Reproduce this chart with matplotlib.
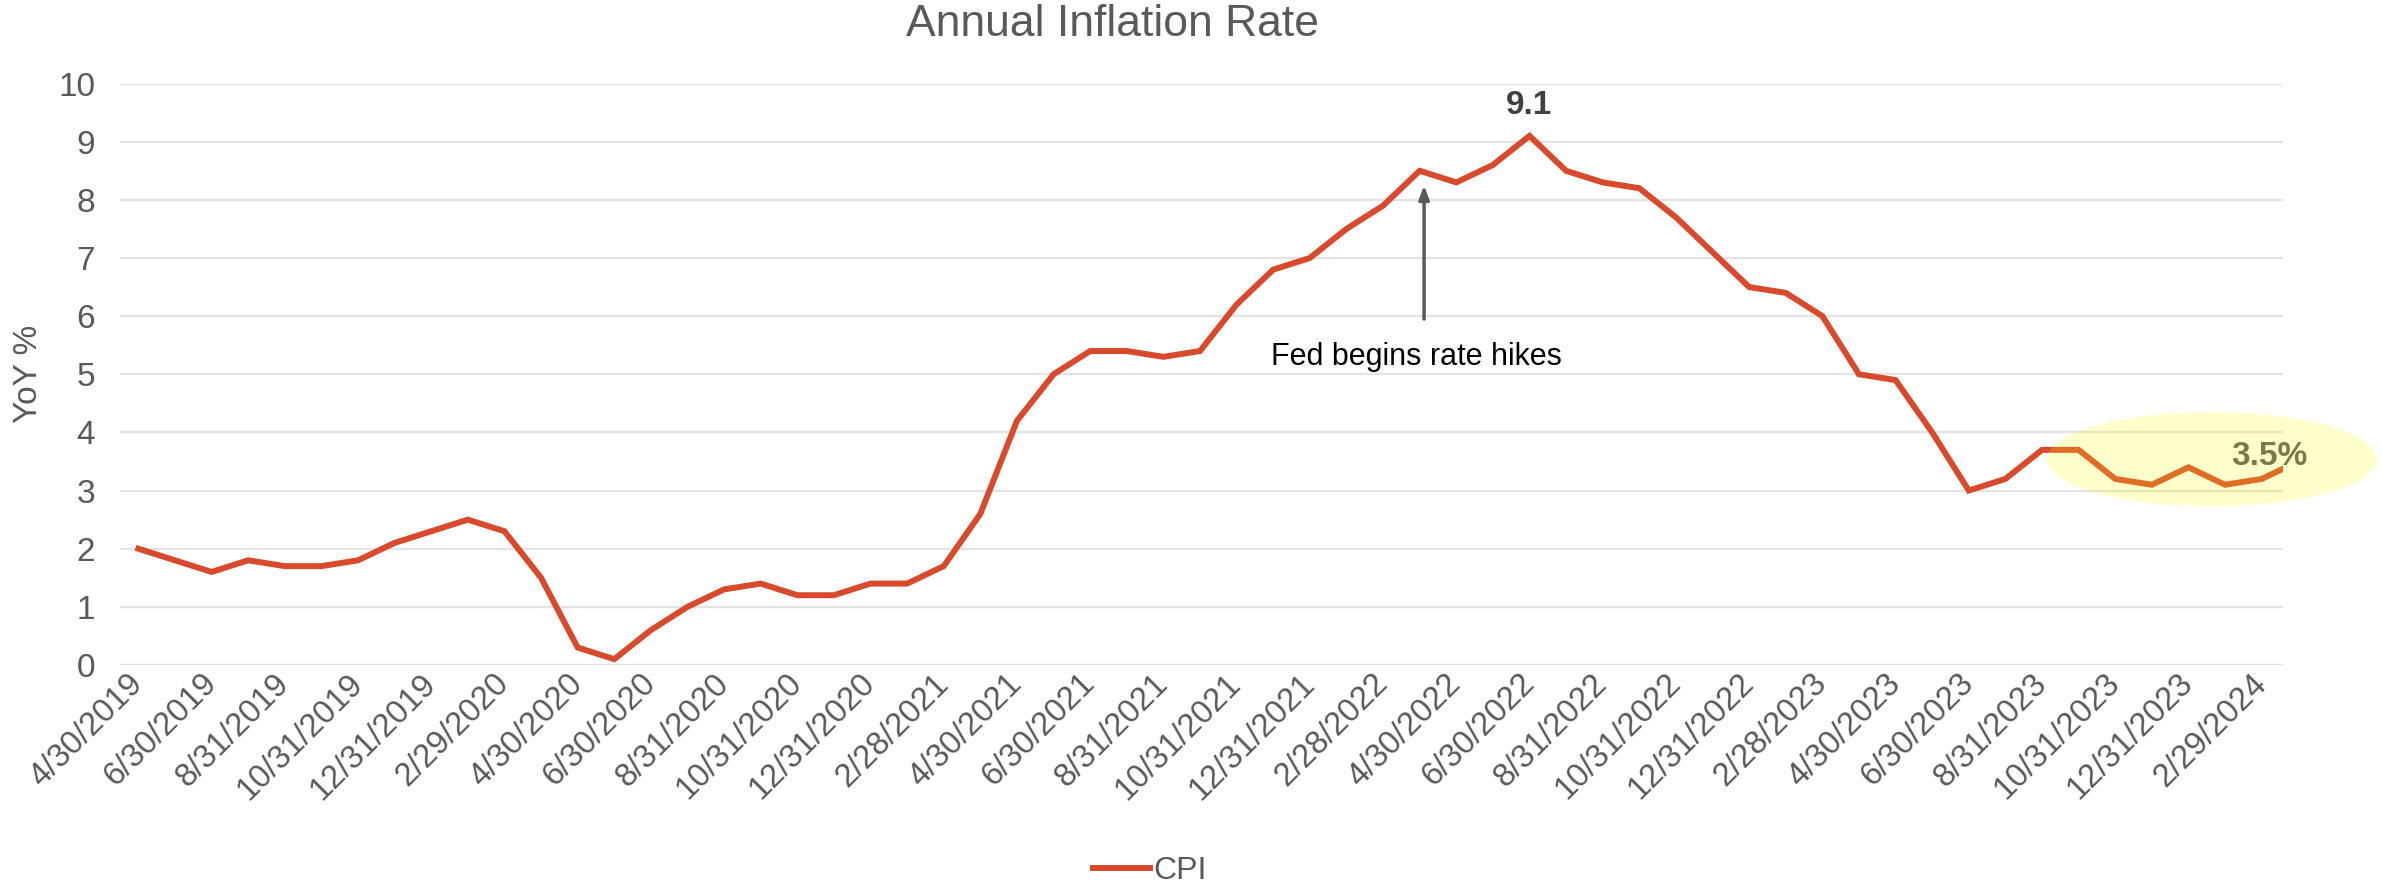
# Annual CPI inflation, monthly YoY %, Apr 2019 - Mar 2024
import numpy as np
import pandas as pd
import matplotlib
matplotlib.use('Agg')
from matplotlib import pyplot as plt
from matplotlib.patches import Ellipse
from matplotlib import rcParams

rcParams['font.family'] = ['Liberation Sans', 'DejaVu Sans']

# data
dates = pd.date_range('2019-04-30', '2024-03-31', freq='ME')
cpi = [2.0, 1.8, 1.6, 1.8, 1.7, 1.7, 1.8, 2.1, 2.3,
       2.5, 2.3, 1.5, 0.3, 0.1, 0.6, 1.0, 1.3, 1.4, 1.2, 1.2, 1.4,
       1.4, 1.7, 2.6, 4.2, 5.0, 5.4, 5.4, 5.3, 5.4, 6.2, 6.8, 7.0,
       7.5, 7.9, 8.5, 8.3, 8.6, 9.1, 8.5, 8.3, 8.2, 7.7, 7.1, 6.5,
       6.4, 6.0, 5.0, 4.9, 4.0, 3.0, 3.2, 3.7, 3.7, 3.2, 3.1, 3.4,
       3.1, 3.2, 3.5]
labels = ['%d/%d/%d' % (d.month, d.day, d.year) for d in dates]
hike_month = '3/31/2022'
yticks = list(range(0, 11))

grey = '#595959'
red = '#D84A2B'

fig = plt.figure(figsize=(23.82, 8.89), dpi=100)
ax = fig.add_axes([0.0504, 0.252, 0.908, 0.654])

x = np.arange(len(cpi))
ax.plot(x, cpi, color=red, lw=4.3, solid_joinstyle='miter', label='CPI', zorder=3)

ax.set_xlim(-0.5, 58.58)
ax.set_ylim(0, 10)
ax.set_yticks(yticks)
ax.set_xticks(x[::2])
ax.set_xticklabels(labels[::2], rotation=45, ha='right', va='center',
                   rotation_mode='anchor', fontsize=23.5, color=grey)
ax.tick_params(axis='x', length=0, pad=10)
ax.tick_params(axis='y', length=0, pad=18, labelsize=24, labelcolor=grey)

for s in ax.spines.values():
    s.set_visible(False)
ax.grid(axis='y', color='#E3E3E3', lw=1.6, zorder=0)
ax.set_axisbelow(True)

ax.set_ylabel('YoY %', fontsize=24, color=grey, labelpad=10)

fig.text(0.467, 0.972, 'Annual Inflation Rate', ha='center', va='center',
         fontsize=32, color=grey)

# peak label
ipk = int(np.argmax(cpi))
ax.annotate('%.1f' % cpi[ipk], (ipk, cpi[ipk]), xytext=(0, 22),
            textcoords='offset points', ha='center', va='center',
            fontsize=24, fontweight='bold', color='#404040')

# first Fed hike
ih = labels.index(hike_month)
ax.annotate('', xy=(ih + 0.12, 8.25), xytext=(ih + 0.12, 5.95),
            arrowprops=dict(arrowstyle='-|>,head_length=0.8,head_width=0.3',
                            color=grey, lw=2.5, shrinkA=0, shrinkB=0))
ax.text(ih - 0.1, 5.3, 'Fed begins rate hikes', ha='center', va='center',
        fontsize=22, color='black')

# latest reading, highlighted
ax.text(58.2, 3.58, '%.1f%%' % cpi[-1], ha='center', va='center', fontsize=24,
        fontweight='bold', color=grey, zorder=4, clip_on=False)
hl = Ellipse((56.64, 3.54), 9.0, 1.62, facecolor=(1, 1, 0, 0.2),
             edgecolor='none', zorder=5, clip_on=False)
ax.add_patch(hl)

fig.legend(loc='center', bbox_to_anchor=(0.4828, 0.02), frameon=False,
           fontsize=23, labelcolor=grey, handlelength=1.8, handletextpad=0.1)

plt.savefig('out.png', dpi=100)
plt.close()
